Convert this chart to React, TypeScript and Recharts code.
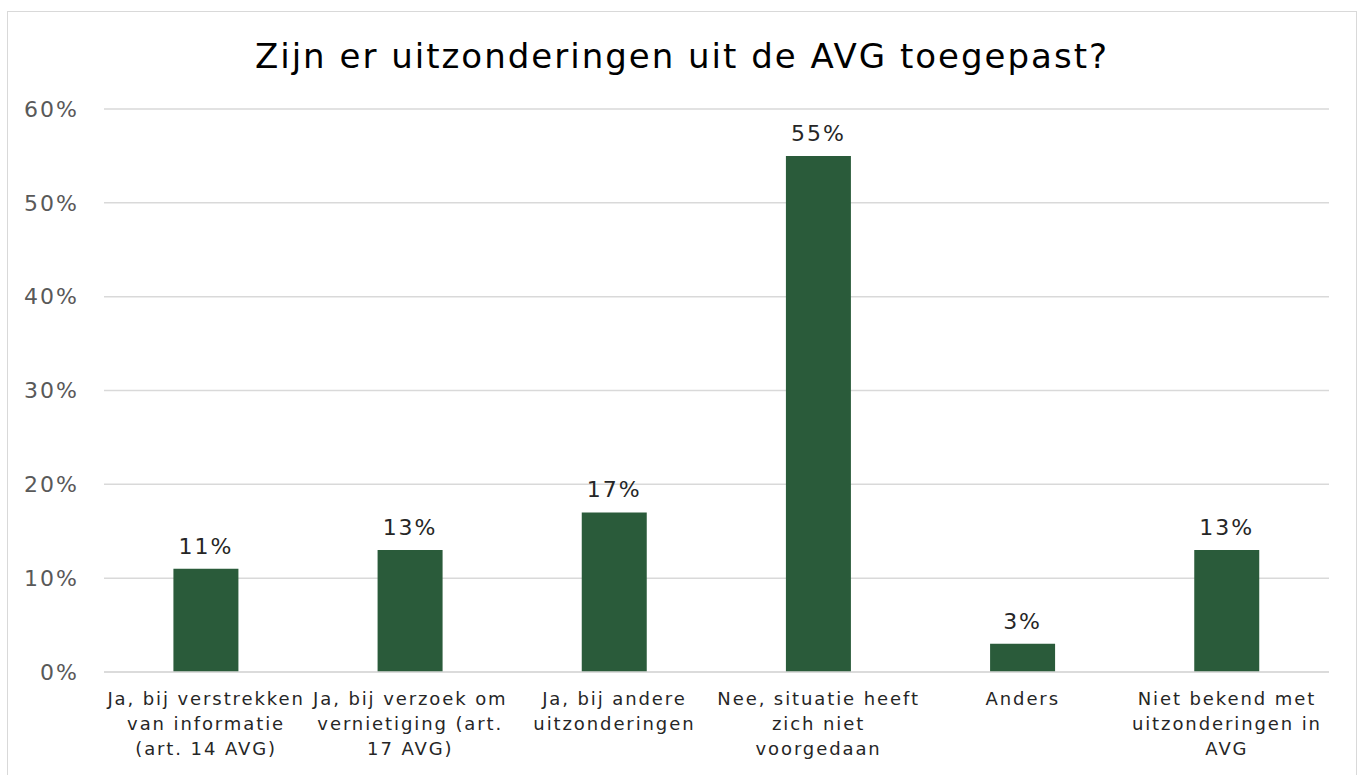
import { BarChart, Bar, XAxis, YAxis, CartesianGrid, LabelList } from 'recharts';

// categorieën (met handmatige regelafbreking zoals in het origineel)
const categories = [
  'Ja, bij verstrekken van informatie (art. 14 AVG)',
  'Ja, bij verzoek om vernietiging (art. 17 AVG)',
  'Ja, bij andere uitzonderingen',
  'Nee, situatie heeft zich niet voorgedaan',
  'Anders',
  'Niet bekend met uitzonderingen in AVG',
];
const categoryLines = [
  ['Ja, bij verstrekken', 'van informatie', '(art. 14 AVG)'],
  ['Ja, bij verzoek om', 'vernietiging (art.', '17 AVG)'],
  ['Ja, bij andere', 'uitzonderingen'],
  ['Nee, situatie heeft', 'zich niet', 'voorgedaan'],
  ['Anders'],
  ['Niet bekend met', 'uitzonderingen in', 'AVG'],
];
const percentages = [11, 13, 17, 55, 3, 13];
const yTicks = [0, 10, 20, 30, 40, 50, 60];

const BAR_COLOR = '#2a5b3a';
const GRID_COLOR = '#d9d9d9';
const FONT = '"DejaVu Sans", Verdana, sans-serif';

const chartData = categories.map((name, i) => ({
  name,
  value: percentages[i],
}));

const CategoryTick = ({ x, y, index }: any) => {
  const lines = categoryLines[index] || [];
  return (
    <text
      x={x}
      y={y}
      textAnchor="middle"
      fill="#262626"
      fontSize={18}
      fontFamily={FONT}
      letterSpacing={1.9}
    >
      {lines.map((line, i) => (
        <tspan key={i} x={x} dy={i === 0 ? 25 : 25}>
          {line}
        </tspan>
      ))}
    </text>
  );
};

export default function App() {
  return (
    <div style={{ position: 'absolute', left: 0, top: 0, width: 1360, height: 775, background: '#fff', overflow: 'hidden' }}>
      <div
        style={{
          position: 'absolute',
          left: 7,
          top: 11,
          width: 1350,
          height: 790,
          border: `1px solid ${GRID_COLOR}`,
          boxSizing: 'border-box',
        }}
      />
      <div
        style={{
          position: 'absolute',
          left: 7,
          top: 36,
          width: 1350,
          textAlign: 'center',
          fontFamily: FONT,
          fontSize: 34,
          lineHeight: '40px',
          letterSpacing: 2,
          color: '#000',
        }}
      >
        Zijn er uitzonderingen uit de AVG toegepast?
      </div>
      <div style={{ position: 'absolute', left: 0, top: 0 }}>
        <BarChart
          width={1360}
          height={775}
          data={chartData}
          margin={{ top: 109, right: 31, left: 8, bottom: 8 }}
          barCategoryGap="34%"
        >
          <CartesianGrid vertical={false} stroke={GRID_COLOR} strokeWidth={1.5} />
          <XAxis
            dataKey="name"
            interval={0}
            height={95}
            axisLine={{ stroke: GRID_COLOR, strokeWidth: 1.5 }}
            tickLine={false}
            tick={<CategoryTick />}
          />
          <YAxis
            width={96}
            domain={[0, 60]}
            ticks={yTicks}
            axisLine={false}
            tickLine={false}
            tickMargin={19}
            tickFormatter={(v: number) => `${v}%`}
            tick={{ fill: '#595959', fontSize: 22, fontFamily: FONT, letterSpacing: 2 }}
          />
          <Bar dataKey="value" fill={BAR_COLOR} isAnimationActive={false}>
            <LabelList
              dataKey="value"
              position="top"
              offset={15}
              formatter={(v: any) => `${v}%`}
              fill="#262626"
              fontSize={22}
              fontFamily={FONT}
              letterSpacing={2}
            />
          </Bar>
        </BarChart>
      </div>
    </div>
  );
}
